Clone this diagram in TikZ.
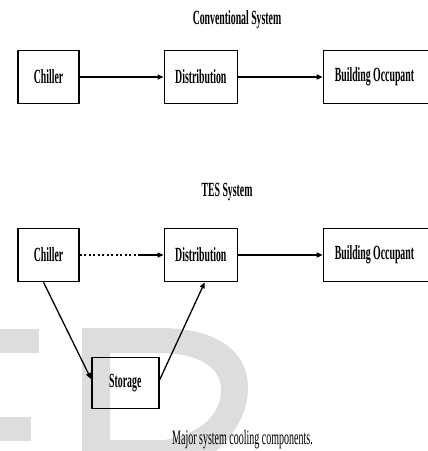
\documentclass[tikz,border=0pt]{standalone}
\usepackage{fontspec}
\setmainfont{Liberation Serif}
\usepackage{graphicx}
\usetikzlibrary{arrows.meta,calc}

\definecolor{markgray}{RGB}{221,221,221}
\newcommand{\stretchy}[1]{\scalebox{1}[2.05]{#1}}

\tikzset{every picture/.style={line width=0.75pt}}
\tikzset{
  unitbox/.style={draw, line width=1.5pt, inner sep=0pt, minimum height=53pt, font=\bfseries\fontsize{9.8}{12}\selectfont},
  heading/.style={font=\bfseries\fontsize{9.8}{12}\selectfont},
  flow/.style={line width=1.3pt, -{Triangle[length=6pt,width=5pt]}},
}

\begin{document}
\begin{tikzpicture}[x=1pt,y=1pt,yscale=-1,xscale=1]
	\path[use as bounding box, clip] (0,0) rectangle (428,451);

	%Shape: Watermark
	\fill[markgray] (0,329) rectangle (39,353);
	\fill[markgray] (0,417) rectangle (31,441);
	\fill[markgray, even odd rule] (82,328) -- (160,328) .. controls (218,328) and (248,352) .. (248,388) .. controls (248,415) and (232,440) .. (205,460) -- (82,460) -- cycle
		(110,353) -- (160,353) .. controls (200,353) and (221,368) .. (221,390) .. controls (221,415) and (200,434) .. (165,440) -- (110,440) -- cycle ;

	% Text Node
	\node[heading] (convtitle) at (237,20) {\stretchy{Conventional System}};
	%Shape: Rectangle
	\node[unitbox, minimum width=61pt] (chill1) at (48.5,77) {\stretchy{Chiller}};
	%Shape: Rectangle
	\node[unitbox, minimum width=73pt] (dist1) at (200.8,77) {\stretchy{Distribution}};
	%Shape: Rectangle
	\node[unitbox, minimum width=112pt, anchor=west] (occ1) at (322.7,77) {\stretchy{Building Occupant}\hspace*{10pt}};

	%Straight Lines
	\draw[flow] (chill1) -- (dist1);
	%Straight Lines
	\draw[flow] (dist1) -- (occ1);

	% Text Node
	\node[heading] (testitle) at (227,192) {\stretchy{TES System}};
	%Shape: Rectangle
	\node[unitbox, minimum width=61pt] (chill2) at (48.5,255) {\stretchy{Chiller}};
	%Shape: Rectangle
	\node[unitbox, minimum width=73pt] (dist2) at (200.8,255) {\stretchy{Distribution}};
	%Shape: Rectangle
	\node[unitbox, minimum width=112pt, anchor=west] (occ2) at (322.7,255) {\stretchy{Building Occupant}\hspace*{10pt}};
	%Shape: Rectangle
	\node[unitbox, minimum width=67pt, minimum height=50.6pt] (storage) at (125.3,383) {\stretchy{Storage}};

	%Straight Lines
	\coordinate (dotend) at (138,255);
	\draw[line width=1.4pt, dash pattern=on 2pt off 2.5pt] (chill2.east) -- (dotend);
	\draw[flow] (dotend) -- (dist2.west);
	%Straight Lines
	\draw[flow] (dist2) -- (occ2);
	%Straight Lines
	\draw[flow] ($(chill2.south)+(-5,0)$) -- ($(storage.west)+(0,-4)$);
	%Straight Lines
	\draw[flow] ($(storage.east)+(0,-3)$) -- ($(dist2.south)+(4,0)$);

	% Text Node
	\node[font=\fontsize{10}{12}\selectfont] (caption) at (242.5,440) {\stretchy{Major system cooling components.}};

\end{tikzpicture}
\end{document}
